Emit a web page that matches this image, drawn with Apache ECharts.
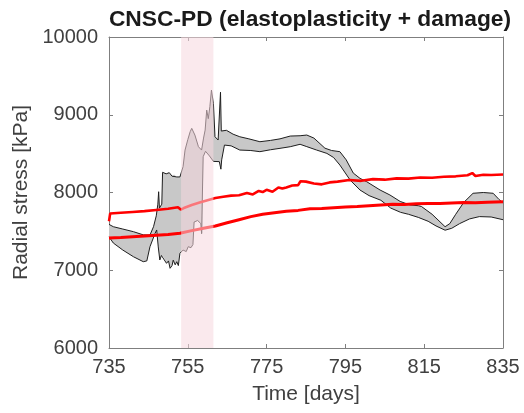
<!DOCTYPE html>
<html>
<head>
<meta charset="utf-8">
<script src="https://cdn.jsdelivr.net/npm/echarts@6/dist/echarts.min.js"></script>
<style>html,body{margin:0;padding:0;background:#fff}#c{width:524px;height:413px}</style>
</head>
<body>
<div id="c"></div>
<script>
// ---- data ----
const xTicks = [735, 755, 775, 795, 815, 835];
const yTicks = [6000, 7000, 8000, 9000, 10000];
const damageWindow = [753.3, 761.5];

// upper black envelope line [day, kPa]
const envUpper = [
  [735.0,7590],[736.1,7560],[738.5,7530],[741.2,7496],[743.7,7455],[745.4,7453],[746.3,7560],
  [747.0,7700],[747.4,7850],[747.6,8010],[747.8,7800],[748.4,7850],[748.6,8260],[749.5,8240],
  [750.3,8255],[751.0,8210],[751.5,8230],[752.2,8200],[753.0,8200],[753.8,8332],[754.3,8546],
  [755.0,8680],[755.6,8782],[756.0,8825],[756.8,8739],[757.7,8589],[758.5,8546],[759.0,8700],
  [759.4,8803],[759.8,9060],[760.2,8950],[760.6,9104],[761.0,9318],[761.5,9147],[761.9,8717],
  [762.7,8675],[763.3,9290],[763.5,8790],[764.0,8803],[764.8,8800],[766.5,8750],[768.2,8717],
  [770.5,8690],[773.3,8653],[776.0,8670],[778.4,8690],[781.0,8726],[783.5,8730],[785.2,8739],
  [787.0,8700],[789.8,8570],[791.5,8540],[793.6,8525],[795.2,8420],[797.0,8250],[798.7,8182],
  [800.4,8139],[803.8,8032],[806.3,7968],[808.9,7885],[811.4,7840],[813.5,7830],[814.3,7820],
  [817.0,7720],[820.3,7560],[821.5,7600],[823.0,7720],[825.0,7870],[827.4,7990],[830.0,8000],
  [832.5,7990],[834.0,7910],[835.0,7865]
];

// lower black envelope line [day, kPa]
const envLower = [
  [735.0,7430],[736.1,7350],[738.5,7260],[741.2,7174],[743.7,7110],[744.6,7120],[745.4,7303],
  [746.7,7475],[747.1,7518],[747.5,7300],[747.9,7132],[748.3,7190],[748.8,7175],[749.6,7089],
  [750.1,7120],[750.5,7025],[751.0,7060],[751.3,7130],[751.8,7070],[752.2,7110],[752.6,7060],
  [753.0,7218],[753.8,7260],[754.6,7240],[755.1,7303],[755.8,7290],[756.3,7330],[756.6,7620],
  [757.5,7640],[758.3,7600],[758.5,7470],[758.8,7480],[758.9,8460],[759.5,8530],[760.5,8470],
  [761.5,8400],[763.0,8397],[763.4,8300],[763.6,8420],[764.3,8610],[766.0,8600],[768.2,8546],
  [771.0,8540],[773.3,8525],[776.0,8550],[778.4,8568],[781.0,8589],[783.5,8620],[785.2,8590],
  [787.7,8546],[790.3,8503],[792.0,8450],[793.6,8353],[796.2,8160],[798.7,8032],[801.0,7960],
  [804.0,7900],[806.5,7800],[809.0,7745],[811.0,7720],[813.5,7680],[816.0,7630],[818.0,7570],
  [820.3,7515],[822.0,7540],[824.0,7600],[826.5,7660],[829.0,7690],[832.0,7685],[835.0,7650]
];

// upper red line [day, kPa]
const redUpper = [
  [735.0,7630],[735.3,7730],[738,7740],[741,7750],[744,7760],[747,7775],[750,7790],[752.5,7810],
  [753.2,7780],[754,7800],[756,7840],[758,7870],[760,7900],[762,7930],[764,7945],[766,7960],
  [768,7965],[770,7995],[771.5,7975],[773,8020],[774,8005],[775,8035],[776.5,8010],[778,8065],
  [779,8050],[780,8065],[781.5,8090],[783,8095],[783.6,8145],[785,8140],[787,8115],[789,8105],
  [791,8130],[793,8140],[796,8160],[799,8150],[802,8172],[805,8165],[808,8182],[811,8178],
  [814,8192],[817,8190],[820,8202],[823,8208],[826,8222],[827.2,8250],[828,8212],[830,8228],
  [832,8225],[835,8232]
];

// lower red line [day, kPa]
const redLower = [
  [735,7415],[738,7420],[741,7430],[744,7440],[747,7450],[750,7460],[753,7475],[756,7510],
  [759,7540],[762,7570],[765,7610],[768,7650],[771,7690],[774,7720],[777,7740],[780,7760],
  [783,7770],[786,7790],[789,7795],[792,7805],[795,7815],[798,7820],[801,7830],[804,7840],
  [807,7850],[810,7845],[813,7855],[816,7860],[819,7858],[822,7865],[825,7870],[828,7868],
  [831,7875],[835,7880]
];

// ---- chart ----
const FONT = 'Liberation Sans, Arial, Helvetica, sans-serif';
const AX = '#7f7f7f';
const TXT = '#404040';
const chart = echarts.init(document.getElementById('c'));

const tickCommon = { show: true, inside: true, length: 4, lineStyle: { color: AX } };

chart.setOption({
  animation: false,
  backgroundColor: '#ffffff',
  textStyle: { fontFamily: FONT },
  title: {
    text: 'CNSC-PD (elastoplasticity + damage)',
    left: 305, top: 3, textAlign: 'center',
    textStyle: { fontFamily: FONT, fontSize: 22.8, fontWeight: 'bold', color: '#1a1a1a' }
  },
  grid: { left: 109, right: 21, top: 37, bottom: 65, containLabel: false, outerBoundsMode: 'none' },
  xAxis: [
    {
      type: 'value', min: 735, max: 835, position: 'bottom',
      name: 'Time [days]', nameLocation: 'middle', nameGap: 36,
      nameTextStyle: { fontFamily: FONT, fontSize: 21, color: TXT },
      axisLine: { show: true, onZero: false, lineStyle: { color: AX } },
      axisTick: Object.assign({ customValues: xTicks }, tickCommon),
      axisLabel: { customValues: xTicks, fontFamily: FONT, fontSize: 20, color: TXT, margin: 9,
        formatter: v => String(v) },
      splitLine: { show: false }
    },
    {
      type: 'value', min: 735, max: 835, position: 'top',
      axisLine: { show: true, onZero: false, lineStyle: { color: AX } },
      axisTick: Object.assign({ customValues: xTicks }, tickCommon),
      axisLabel: { show: false },
      splitLine: { show: false }
    }
  ],
  yAxis: [
    {
      type: 'value', min: 6000, max: 10000, interval: 1000, position: 'left',
      name: 'Radial stress [kPa]', nameLocation: 'middle', nameGap: 56,
      nameTextStyle: { fontFamily: FONT, fontSize: 21, color: TXT },
      axisLine: { show: true, onZero: false, lineStyle: { color: AX } },
      axisTick: tickCommon,
      axisLabel: { fontFamily: FONT, fontSize: 20, color: TXT, margin: 11,
        customValues: yTicks, formatter: v => String(v) },
      splitLine: { show: false }
    },
    {
      type: 'value', min: 6000, max: 10000, interval: 1000, position: 'right',
      axisLine: { show: true, onZero: false, lineStyle: { color: AX } },
      axisTick: tickCommon,
      axisLabel: { show: false },
      splitLine: { show: false }
    }
  ],
  series: [
    {
      name: 'envelope', type: 'custom', silent: true, z: 1, clip: true,
      data: [[785, 8000]],
      renderItem: function (params, api) {
        const pts = envUpper.map(p => api.coord(p))
          .concat(envLower.slice().reverse().map(p => api.coord(p)));
        return { type: 'polygon', shape: { points: pts }, style: { fill: '#c8c8c8', stroke: null } };
      }
    },
    { name: 'upper', type: 'line', data: envUpper, showSymbol: false, silent: true, z: 2,
      lineStyle: { color: '#1e1e1e', width: 1 } },
    { name: 'lower', type: 'line', data: envLower, showSymbol: false, silent: true, z: 2,
      lineStyle: { color: '#1e1e1e', width: 1 } },
    { name: 'redUpper', type: 'line', data: redUpper, showSymbol: false, silent: true, z: 3,
      lineStyle: { color: '#ff0000', width: 2.6 } },
    { name: 'redLower', type: 'line', data: redLower, showSymbol: false, silent: true, z: 3,
      lineStyle: { color: '#ff0000', width: 3 } },
    {
      name: 'window', type: 'custom', silent: true, z: 10, clip: true,
      data: [[damageWindow[0], damageWindow[1]]],
      renderItem: function (params, api) {
        const p0 = api.coord([damageWindow[0], 10000]);
        const p1 = api.coord([damageWindow[1], 6000]);
        return { type: 'rect', shape: { x: p0[0], y: p0[1], width: p1[0] - p0[0], height: p1[1] - p0[1] },
          style: { fill: 'rgba(245,215,222,0.55)' } };
      }
    }
  ]
});
</script>
</body>
</html>
